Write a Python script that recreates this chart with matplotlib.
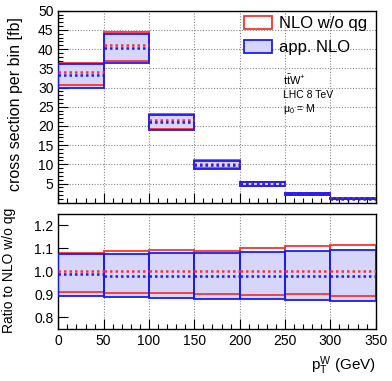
import matplotlib
matplotlib.use("Agg")
import matplotlib.pyplot as plt
from matplotlib.patches import Patch
from matplotlib.ticker import MultipleLocator, FixedLocator
import numpy as np

plt.rcParams['font.family'] = ['Liberation Sans', 'DejaVu Sans']
plt.rcParams['mathtext.fontset'] = 'custom'
plt.rcParams['mathtext.rm'] = 'Liberation Sans'
plt.rcParams['mathtext.it'] = 'Liberation Sans:italic'

# pT(W) bin edges in GeV
edges = [0, 50, 100, 150, 200, 250, 300, 350]

# cross section per bin [fb]
nlo_central = [34.0, 41.1, 21.6, 10.1, 4.9, 2.3, 1.1]
nlo_up = [36.5, 44.4, 23.2, 11.0, 5.35, 2.55, 1.22]
nlo_down = [30.7, 37.0, 19.1, 9.05, 4.4, 2.07, 0.98]
app_central = [33.3, 40.3, 21.0, 9.85, 4.8, 2.25, 1.08]
app_up = [36.1, 43.9, 22.9, 10.85, 5.3, 2.5, 1.2]
app_down = [29.9, 36.5, 19.0, 8.85, 4.3, 2.0, 0.96]

# ratio to NLO w/o qg
ratio_nlo_central = [1.0, 1.0, 1.0, 1.0, 1.0, 1.0, 1.0]
ratio_nlo_up = [1.081, 1.086, 1.093, 1.087, 1.101, 1.109, 1.112]
ratio_nlo_down = [0.910, 0.906, 0.904, 0.899, 0.896, 0.899, 0.891]
ratio_app_central = [0.986, 0.981, 0.981, 0.978, 0.981, 0.981, 0.981]
ratio_app_up = [1.073, 1.073, 1.077, 1.077, 1.085, 1.090, 1.093]
ratio_app_down = [0.890, 0.886, 0.884, 0.878, 0.878, 0.875, 0.871]

red = '#ff3030'
blue = '#1a1aff'
fill = '#d6d6fb'

lefts = np.array(edges[:-1])
rights = np.array(edges[1:])
widths = rights - lefts


def draw_bands(ax, c1, u1, d1, c2, u2, d2):
    u1, d1, u2, d2 = map(np.array, (u1, d1, u2, d2))
    ax.bar(lefts, u2 - d2, bottom=d2, width=widths, align='edge',
           color=fill, edgecolor='none', zorder=1)
    ax.bar(lefts, u1 - d1, bottom=d1, width=widths, align='edge',
           fill=False, edgecolor=red, linewidth=1.3, zorder=2)
    ax.bar(lefts, u2 - d2, bottom=d2, width=widths, align='edge',
           fill=False, edgecolor=blue, linewidth=1.3, zorder=3)
    ax.hlines(c1, lefts, rights, colors=red, linestyles=(0, (1, 1.2)),
              linewidth=1.8, zorder=4)
    ax.hlines(c2, lefts, rights, colors=blue, linestyles=(0, (1, 1.2)),
              linewidth=1.8, zorder=4)


def style(ax):
    ax.tick_params(which='both', direction='in', top=False, right=False,
                   labelsize=10, colors='black')
    ax.tick_params(which='major', length=7, width=0.8)
    ax.tick_params(which='minor', length=3.5, width=0.8)
    ax.xaxis.set_major_locator(MultipleLocator(50))
    ax.xaxis.set_minor_locator(MultipleLocator(10))
    ax.set_xlim(0, 350)
    for s in ax.spines.values():
        s.set_linewidth(1.0)


fig = plt.figure(figsize=(3.92, 3.81), dpi=100)
ax1 = fig.add_axes([58.3 / 392, 1 - 202.7 / 381, 317.4 / 392, 192 / 381])
ax2 = fig.add_axes([58.3 / 392, 1 - 328.7 / 381, 317.4 / 392, 115 / 381])

# Top panel
draw_bands(ax1, nlo_central, nlo_up, nlo_down, app_central, app_up, app_down)
style(ax1)
ax1.set_ylim(0, 50)
ax1.yaxis.set_major_locator(FixedLocator([5, 10, 15, 20, 25, 30, 35, 40, 45, 50]))
ax1.yaxis.set_minor_locator(MultipleLocator(1))
ax1.tick_params(axis='x', labelbottom=False)
ax1.grid(True, which='major', color='#888888', linestyle=(0, (1, 1.5)), linewidth=0.8, zorder=0)
ax1.set_axisbelow(True)
ax1.set_ylabel('cross section per bin [fb]', fontsize=11.5)
ax1.yaxis.set_label_coords(-0.111, 0.515)

handles = [Patch(facecolor='white', edgecolor=red, linewidth=1.3, label='NLO w/o qg'),
           Patch(facecolor=fill, edgecolor=blue, linewidth=1.3, label='app. NLO')]
ax1.legend(handles=handles, loc='upper left', bbox_to_anchor=(0.585, 0.975),
           frameon=False, fontsize=12, borderpad=0, borderaxespad=0,
           handlelength=1.7, handleheight=0.9, handletextpad=0.4, labelspacing=0.5)

ax1.text(0.708, 0.64, r'$\mathrm{t\bar{t}W^{+}}$', transform=ax1.transAxes,
         fontsize=8, va='center', ha='left')
ax1.text(0.708, 0.563, 'LHC 8 TeV', transform=ax1.transAxes,
         fontsize=7.5, va='center', ha='left')
ax1.text(0.708, 0.49, 'μ$_{0}$ = M', transform=ax1.transAxes,
         fontsize=7.5, va='center', ha='left')

# Ratio panel
draw_bands(ax2, ratio_nlo_central, ratio_nlo_up, ratio_nlo_down,
           ratio_app_central, ratio_app_up, ratio_app_down)
style(ax2)
ax2.set_ylim(0.75, 1.25)
ax2.yaxis.set_major_locator(FixedLocator([0.8, 0.9, 1.0, 1.1, 1.2]))
ax2.yaxis.set_major_formatter(matplotlib.ticker.FormatStrFormatter('%.1f'))
ax2.xaxis.grid(True, which='major', color='#888888', linestyle=(0, (1, 1.5)), linewidth=0.8)
ax2.set_axisbelow(True)
ax2.set_ylabel('Ratio to NLO w/o qg', fontsize=10)
ax2.yaxis.set_label_coords(-0.133, 0.51)
ax2.set_xlabel(r'p$_{\mathrm{T}}^{\mathrm{W}}$ (GeV)', fontsize=11)
ax2.xaxis.set_label_coords(1.0, -0.22)
ax2.xaxis.label.set_horizontalalignment('right')

fig.savefig('out.png', dpi=100)
